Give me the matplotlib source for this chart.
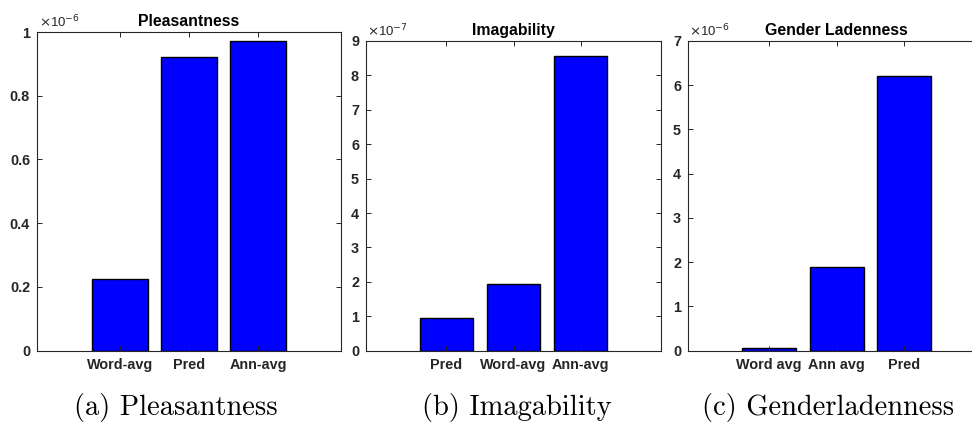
import matplotlib
matplotlib.use("Agg")
import matplotlib.pyplot as plt
from matplotlib.ticker import FuncFormatter


# Data (values in units of the axis exponent)
pleas_cats = ["Word-avg", "Pred", "Ann-avg"]
pleas_vals = [0.224, 0.920, 0.971]     # x 1e-6

imag_cats = ["Pred", "Word-avg", "Ann-avg"]
imag_vals = [0.95, 1.93, 8.55]         # x 1e-7

gend_cats = ["Word avg", "Ann avg", "Pred"]
gend_vals = [0.07, 1.89, 6.22]         # x 1e-6

titles = ["Pleasantness", "Imagability", "Gender Ladenness"]
captions = ["(a) Pleasantness", "(b) Imagability", "(c) Genderladenness"]
exponents = ["-6", "-7", "-6"]
ylims = [1, 9, 7]
yticks = [[0, 0.2, 0.4, 0.6, 0.8, 1], list(range(10)), list(range(8))]


W, H = 972, 422
fig = plt.figure(figsize=(W / 100, H / 100), dpi=100)

# axes boxes in pixels: left, right, top, bottom
boxes = [(37, 341, 32, 350.7), (366, 661, 41, 350.7), (688, 985, 41, 350.7)]
cap_x = [176, 517, 828]

axcol = "#262626"
sans = "Liberation Sans"

for i, (cats, vals) in enumerate([(pleas_cats, pleas_vals),
                                  (imag_cats, imag_vals),
                                  (gend_cats, gend_vals)]):
    l, r, t, b = boxes[i]
    ax = fig.add_axes([l / W, (H - b) / H, (r - l) / W, (b - t) / H])
    xs = [1, 2, 3]
    ax.bar(xs, vals, width=0.8, color="#0000ff", edgecolor="black", linewidth=1.0)
    ax.set_xlim(-0.2, 4.2)
    ax.set_ylim(0, ylims[i])
    ax.set_xticks(xs)
    ax.set_xticklabels(cats)
    ax.set_yticks(yticks[i])
    ax.yaxis.set_major_formatter(FuncFormatter(lambda v, p: f"{v:g}"))
    ax.tick_params(direction="in", top=True, right=True, length=3.5,
                   width=0.7, colors=axcol, labelsize=10.4, pad=5)
    for lab in ax.get_xticklabels() + ax.get_yticklabels():
        lab.set_fontfamily(sans)
        lab.set_fontweight("bold")
    for s in ax.spines.values():
        s.set_color(axcol)
        s.set_linewidth(0.8)
    ax.set_title(titles[i], fontsize=11.4, fontweight="bold", family=sans,
                 color="black", pad=4)
    ax.text(0.005, 1.006, r"$\times$10$^{" + exponents[i] + "}$",
            transform=ax.transAxes, ha="left", va="bottom", fontsize=9.5,
            family=sans, color=axcol)
    fig.text(cap_x[i] / W, (H - 408) / H, captions[i], family="cmr10",
             fontsize=20.5, ha="center", va="center")

fig.savefig("out.png", dpi=100)
